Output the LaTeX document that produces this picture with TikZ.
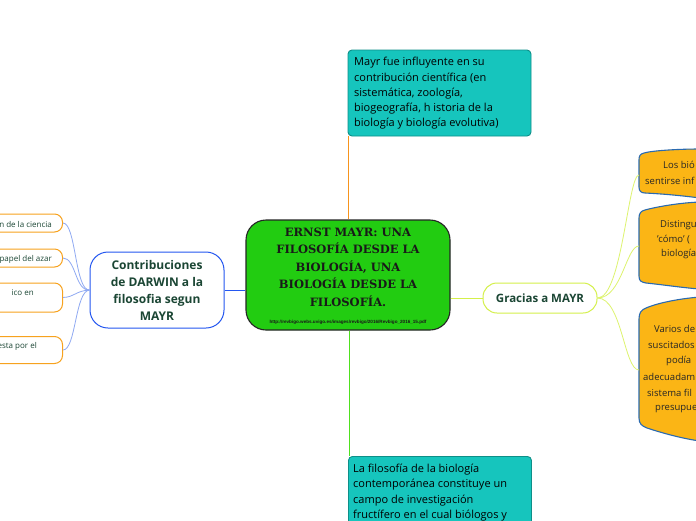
\documentclass[tikz,border=0pt]{standalone}
\usepackage{fontspec}
\setmainfont{Open Sans}
\newfontfamily\titlefont{DejaVu Serif}
\newfontfamily\urlfont{Liberation Sans}
\definecolor{cgreen}{HTML}{22CC11}
\definecolor{teal1}{HTML}{16C5BD}
\definecolor{teal2}{HTML}{0E8F88}
\definecolor{orfill}{HTML}{FBB515}
\definecolor{orline}{HTML}{F7A21E}
\definecolor{bluebd}{HTML}{2A6AB0}
\definecolor{yg}{HTML}{D4F04A}
\definecolor{lblue}{HTML}{2457F0}
\definecolor{sblue}{HTML}{8FA9F2}
\definecolor{dgreen}{HTML}{1B4634}
\definecolor{topline}{HTML}{F7941D}
\definecolor{botline}{HTML}{4FE01E}
\tikzset{
  central/.style={draw=black!85, line width=1.1pt, fill=cgreen, rounded corners=20pt, minimum width=204pt, minimum height=110pt},
  tealbox/.style={draw=teal2, line width=0.9pt, fill=teal1, rounded corners=4pt},
  tealtxt/.style={align=left, font=\fontsize{11}{15.3}\selectfont, text=black, inner sep=0pt},
  grabox/.style={draw=yg, line width=1pt, fill=white, rounded corners=14pt, minimum width=114pt, minimum height=30pt, font=\bfseries\fontsize{11.5}{14}\selectfont, text=dgreen},
  leftbox/.style={draw=lblue, line width=1pt, fill=white, rounded corners=18pt, minimum width=134pt, minimum height=76pt, align=center, font=\bfseries\fontsize{12}{17}\selectfont, text=dgreen},
  smallbox/.style={draw=orline, line width=1pt, fill=white, rounded corners=8pt, minimum width=120pt, anchor=east},
  smalltxt/.style={anchor=east, inner sep=0pt, font=\fontsize{8}{10}\selectfont, text=dgreen},
  rbox/.style={draw=bluebd, line width=1.1pt, fill=orfill},
  rtxt/.style={anchor=west, inner sep=0pt, font=\fontsize{9.5}{12}\selectfont, text=black!85},
  ygline/.style={draw=yg!80!white, line width=0.8pt},
  sbline/.style={draw=sblue, line width=0.8pt},
}
\begin{document}
\begin{tikzpicture}[x=1pt,y=-1pt]
\useasboundingbox (0,0) rectangle (696,520);
\clip (0,0) rectangle (696,520);
\fill[white] (0,0) rectangle (696,520);

% central node
\node[central] (c) at (348,275) {};
\node[align=center, inner sep=0pt, font=\titlefont\bfseries\fontsize{11.5}{17.5}\selectfont, text=black!90] (ct) at (348,267)
 {ERNST MAYR: UNA\\FILOSOFÍA DESDE LA\\BIOLOGÍA, UNA\\BIOLOGÍA DESDE LA\\FILOSOFÍA.};
\node[inner sep=0pt, font=\urlfont\bfseries\fontsize{4.6}{5}\selectfont, text=black!90] (curl) at (348,322)
 {http://revbigo.webs.uvigo.es/images/revbigo/2016/Revbigo\_2016\_15.pdf};

% top box
\node[tealbox, minimum width=183pt, minimum height=86pt] (top) at (439.5,93) {};
\node[tealtxt, anchor=west] (toptxt) at (354,93.5)
 {Mayr fue influyente en su\\contribución científica (en\\sistemática, zoología,\\biogeografía, h istoria de la\\biología y biología evolutiva)};
\draw[topline, line width=1pt] (c.north) -- (c.north |- top.south);

% bottom box
\node[tealbox, minimum width=183pt, minimum height=90pt, anchor=north west] (bot) at (348,456) {};
\node[tealtxt, anchor=north west] (bottxt) at (353,464)
 {La filosofía de la biología\\contemporánea constituye un\\campo de investigación\\fructífero en el cual biólogos y};
\draw[botline, line width=1pt] ([xshift=1.5pt]c.south) -- ([xshift=1.5pt]c.south |- bot.north);

% Gracias node
\node[grabox] (g) at (540,298) {Gracias a MAYR};
\draw[yg, line width=1pt] (c.east |- g.west) -- (g.west);

% right boxes
\draw[rbox] (700,149) .. controls (675,149) and (650,151) .. (644,153) .. controls (640,154) and (639,156) .. (639,160) -- (639,187) .. controls (639,191) and (641,193) .. (645,193) .. controls (665,194) and (685,196) .. (700,198) -- cycle;
\draw[rbox] (700,202) .. controls (675,203) and (652,208) .. (645,210) .. controls (641,211) and (639,213) .. (639,218) -- (639,276) .. controls (639,281) and (641,282) .. (646,283) .. controls (665,285) and (685,288) .. (700,289) -- cycle;
\draw[rbox] (700,297) .. controls (675,299) and (655,304) .. (646,308) .. controls (641,310) and (639,313) .. (639,319) -- (639,418) .. controls (639,424) and (642,426) .. (647,428) .. controls (665,434) and (685,439) .. (700,441) -- cycle;
\coordinate (r1) at (639,175);
\coordinate (r2) at (639,246);
\coordinate (r3) at (639,370);
\draw[ygline] (g.east) .. controls (622,298) and (628,175) .. (r1);
\draw[ygline] (g.east) .. controls (622,298) and (626,246) .. (r2);
\draw[ygline] (g.east) .. controls (622,298) and (624,370) .. (r3);

\node[rtxt] (t11) at (663,165) {Los bió};
\node[rtxt] (t12) at (645,181) {sentirse inf};
\node[rtxt] (t21) at (660,225) {Distingu};
\node[rtxt] (t22) at (657,240) {'cómo' (};
\node[rtxt] (t23) at (661,254) {biología};
\node[rtxt] (t31) at (654,329) {Varios de};
\node[rtxt] (t32) at (648,345) {suscitados};
\node[rtxt] (t33) at (666,361) {podía};
\node[rtxt] (t34) at (643,377) {adecuadam};
\node[rtxt] (t35) at (647,393) {sistema fil};
\node[rtxt] (t36) at (655,409) {presupue};

% left node
\node[leftbox] (L) at (157,290) {Contribuciones\\de DARWIN a la\\filosofia segun\\MAYR};
\draw[lblue, line width=1pt] (L.east) -- (c.west |- L.east);

% small left nodes
\node[smallbox, minimum height=18pt] (s1) at (63,223) {};
\node[smallbox, minimum height=18pt] (s2) at (63,258) {};
\node[smallbox, minimum height=29pt] (s3) at (63,297.5) {};
\node[smallbox, minimum height=27pt] (s4) at (63,350) {};
\node[smalltxt] (s1t) at (52,224) {n de la ciencia};
\node[smalltxt] (s2t) at (52,259) {papel del azar};
\node[smalltxt] (s3t) at (34,293) {ico en};
\node[smalltxt] (s4t) at (37,346) {esta por el};
\draw[sbline] (L.west) .. controls (75,291) and (76,223) .. (s1.east);
\draw[sbline] (L.west) .. controls (75,291) and (76,258) .. (s2.east);
\draw[sbline] (L.west) .. controls (75,291) and (75,297) .. (s3.east);
\draw[sbline] (L.west) .. controls (75,291) and (76,350) .. (s4.east);
\end{tikzpicture}
\end{document}
